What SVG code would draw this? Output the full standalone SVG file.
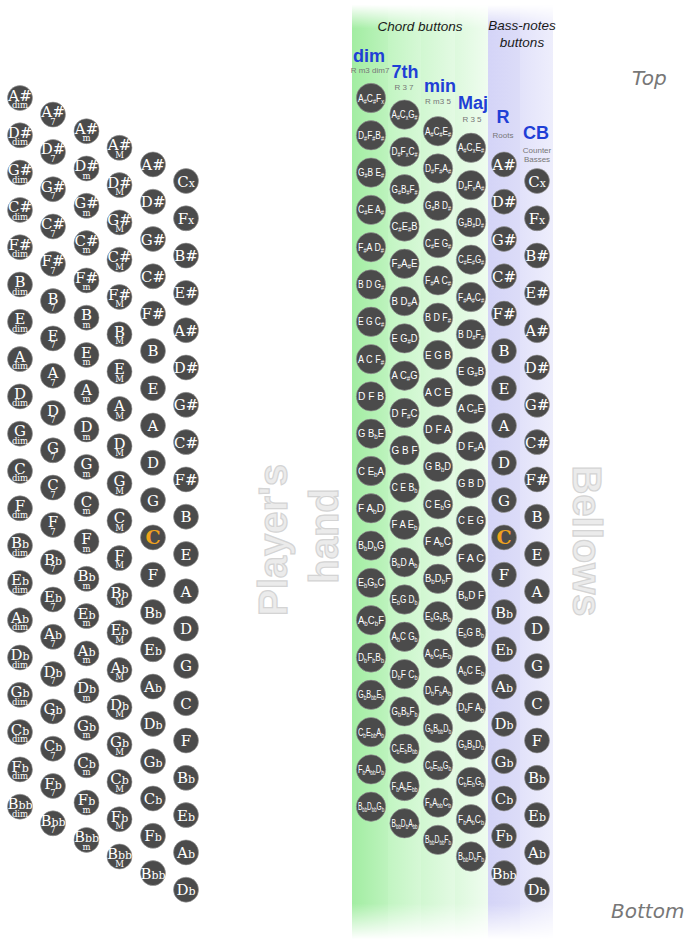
<svg xmlns="http://www.w3.org/2000/svg" xmlns:xlink="http://www.w3.org/1999/xlink" width="696" height="946" viewBox="0 0 696 946">
<style>
.b{fill:#4b4b4b;stroke:#9a9a9a;stroke-width:.6}
.n{font-family:"DejaVu Serif","Liberation Serif",serif;font-size:15px;fill:#fff;text-anchor:middle}
.f{font-size:11px}
.s{font-family:"DejaVu Serif","Liberation Serif",serif;font-size:8.5px;fill:#fff;text-anchor:middle}
.o{font-family:"DejaVu Serif","Liberation Serif",serif;font-weight:bold;font-size:19px;fill:#f0a21c;text-anchor:middle}
.c{font-family:"Liberation Sans",Arial,sans-serif;font-size:10px;fill:#fff;text-anchor:middle}
.a{font-size:6.5px;baseline-shift:-2px}
.h{font-family:"Liberation Sans",Arial,sans-serif;font-style:italic;font-size:13.5px;fill:#1a1a1a;text-anchor:middle}
.t{font-family:"Liberation Sans",Arial,sans-serif;font-weight:bold;font-size:18px;fill:#1f3fd6;text-anchor:middle}
.u{font-family:"Liberation Sans",Arial,sans-serif;font-size:8px;fill:#777;text-anchor:middle}
.e{font-family:"DejaVu Sans",sans-serif;font-style:italic;font-size:20px;fill:#777}
.g{font-family:"Liberation Sans",Arial,sans-serif;font-weight:bold;font-size:40px;fill:#ebebeb;stroke:#d4d4d4;stroke-width:1.2;text-anchor:middle}
</style>
<defs>
<circle id="bb" r="12.5" class="b"/>
<circle id="bc" r="14.7" class="b"/>
<linearGradient id="gD" x1="0" x2="1" y1="0" y2="0"><stop offset="0" stop-color="#a2eda2"/><stop offset="1" stop-color="#bdf3bd"/></linearGradient>
<linearGradient id="g7" x1="0" x2="1" y1="0" y2="0"><stop offset="0" stop-color="#c2f5c2"/><stop offset="1" stop-color="#d6f8d6"/></linearGradient>
<linearGradient id="gm" x1="0" x2="1" y1="0" y2="0"><stop offset="0" stop-color="#d1f7d1"/><stop offset="1" stop-color="#e3fae3"/></linearGradient>
<linearGradient id="gM" x1="0" x2="1" y1="0" y2="0"><stop offset="0" stop-color="#ddf9dd"/><stop offset="1" stop-color="#effcef"/></linearGradient>
<linearGradient id="gR" x1="0" x2="1" y1="0" y2="0"><stop offset="0" stop-color="#d4d4f7"/><stop offset="1" stop-color="#dcdcf8"/></linearGradient>
<linearGradient id="gC" x1="0" x2="1" y1="0" y2="0"><stop offset="0" stop-color="#e2e2fa"/><stop offset="1" stop-color="#eeeefc"/></linearGradient>
<linearGradient id="vf" x1="0" x2="0" y1="0" y2="1"><stop offset="0.005" stop-color="#000"/><stop offset="0.03" stop-color="#fff"/><stop offset="0.955" stop-color="#fff"/><stop offset="0.993" stop-color="#000"/></linearGradient>
<mask id="fade"><rect x="340" y="0" width="230" height="946" fill="url(#vf)"/></mask>
</defs>
<rect width="696" height="946" fill="#fff"/>
<g id="bands" mask="url(#fade)">
<rect x="352" y="0" width="36" height="946" fill="url(#gD)"/>
<rect x="388" y="0" width="33" height="946" fill="url(#g7)"/>
<rect x="421" y="0" width="34" height="946" fill="url(#gm)"/>
<rect x="455" y="0" width="33" height="946" fill="url(#gM)"/>
<rect x="488" y="0" width="32" height="946" fill="url(#gR)"/>
<rect x="520" y="0" width="33" height="946" fill="url(#gC)"/>
</g>
<g id="labels">
<text class="h" x="420" y="31">Chord buttons</text>
<text class="h" x="522" y="30">Bass-notes</text>
<text class="h" x="522" y="47">buttons</text>
<text class="t" x="369" y="62">dim</text><text class="u" x="370" y="73">R m3 dim7</text>
<text class="t" x="405" y="78">7th</text><text class="u" x="404" y="90">R 3 7</text>
<text class="t" x="440" y="92">min</text><text class="u" x="438" y="104">R m3 5</text>
<text class="t" x="473" y="109">Maj</text><text class="u" x="472" y="122">R 3 5</text>
<text class="t" x="503" y="123">R</text><text class="u" x="503" y="138">Roots</text>
<text class="t" x="536" y="139">CB</text><text class="u" x="537" y="153">Counter</text><text class="u" x="537" y="162">Basses</text>
<text class="e" x="632" y="85">Top</text>
<text class="e" x="611" y="918">Bottom</text>
<text class="g" transform="translate(287,540) rotate(-90)">Player's</text>
<text class="g" transform="translate(338,536) rotate(-90)">hand</text>
<text class="g" transform="translate(573,541) rotate(90)">Bellows</text>
</g>
<g id="connectors"/>
<g id="left-dim">
<g id="L-dim-1" transform="translate(20,98)"><use href="#bb"/><text class="n" y="2.5">A#</text><text class="s" y="10">dim</text></g>
<g id="L-dim-2" transform="translate(20,135.3)"><use href="#bb"/><text class="n" y="2.5">D#</text><text class="s" y="10">dim</text></g>
<g id="L-dim-3" transform="translate(20,172.6)"><use href="#bb"/><text class="n" y="2.5">G#</text><text class="s" y="10">dim</text></g>
<g id="L-dim-4" transform="translate(20,209.9)"><use href="#bb"/><text class="n" y="2.5">C#</text><text class="s" y="10">dim</text></g>
<g id="L-dim-5" transform="translate(20,247.2)"><use href="#bb"/><text class="n" y="2.5">F#</text><text class="s" y="10">dim</text></g>
<g id="L-dim-6" transform="translate(20,284.5)"><use href="#bb"/><text class="n" y="2.5">B</text><text class="s" y="10">dim</text></g>
<g id="L-dim-7" transform="translate(20,321.8)"><use href="#bb"/><text class="n" y="2.5">E</text><text class="s" y="10">dim</text></g>
<g id="L-dim-8" transform="translate(20,359.1)"><use href="#bb"/><text class="n" y="2.5">A</text><text class="s" y="10">dim</text></g>
<g id="L-dim-9" transform="translate(20,396.4)"><use href="#bb"/><text class="n" y="2.5">D</text><text class="s" y="10">dim</text></g>
<g id="L-dim-10" transform="translate(20,433.7)"><use href="#bb"/><text class="n" y="2.5">G</text><text class="s" y="10">dim</text></g>
<g id="L-dim-11" transform="translate(20,471)"><use href="#bb"/><text class="n" y="2.5">C</text><text class="s" y="10">dim</text></g>
<g id="L-dim-12" transform="translate(20,508.3)"><use href="#bb"/><text class="n" y="2.5">F</text><text class="s" y="10">dim</text></g>
<g id="L-dim-13" transform="translate(20,545.6)"><use href="#bb"/><text class="n" y="2.5">B<tspan class="f">b</tspan></text><text class="s" y="10">dim</text></g>
<g id="L-dim-14" transform="translate(20,582.9)"><use href="#bb"/><text class="n" y="2.5">E<tspan class="f">b</tspan></text><text class="s" y="10">dim</text></g>
<g id="L-dim-15" transform="translate(20,620.2)"><use href="#bb"/><text class="n" y="2.5">A<tspan class="f">b</tspan></text><text class="s" y="10">dim</text></g>
<g id="L-dim-16" transform="translate(20,657.5)"><use href="#bb"/><text class="n" y="2.5">D<tspan class="f">b</tspan></text><text class="s" y="10">dim</text></g>
<g id="L-dim-17" transform="translate(20,694.8)"><use href="#bb"/><text class="n" y="2.5">G<tspan class="f">b</tspan></text><text class="s" y="10">dim</text></g>
<g id="L-dim-18" transform="translate(20,732.1)"><use href="#bb"/><text class="n" y="2.5">C<tspan class="f">b</tspan></text><text class="s" y="10">dim</text></g>
<g id="L-dim-19" transform="translate(20,769.4)"><use href="#bb"/><text class="n" y="2.5">F<tspan class="f">b</tspan></text><text class="s" y="10">dim</text></g>
<g id="L-dim-20" transform="translate(20,806.7)"><use href="#bb"/><text class="n" y="2.5">B<tspan class="f">bb</tspan></text><text class="s" y="10">dim</text></g>
</g>
<g id="left-7">
<g id="L-7-1" transform="translate(53,114.6)"><use href="#bb"/><text class="n" y="2.5">A#</text><text class="s" y="10">7</text></g>
<g id="L-7-2" transform="translate(53,151.9)"><use href="#bb"/><text class="n" y="2.5">D#</text><text class="s" y="10">7</text></g>
<g id="L-7-3" transform="translate(53,189.2)"><use href="#bb"/><text class="n" y="2.5">G#</text><text class="s" y="10">7</text></g>
<g id="L-7-4" transform="translate(53,226.5)"><use href="#bb"/><text class="n" y="2.5">C#</text><text class="s" y="10">7</text></g>
<g id="L-7-5" transform="translate(53,263.8)"><use href="#bb"/><text class="n" y="2.5">F#</text><text class="s" y="10">7</text></g>
<g id="L-7-6" transform="translate(53,301.1)"><use href="#bb"/><text class="n" y="2.5">B</text><text class="s" y="10">7</text></g>
<g id="L-7-7" transform="translate(53,338.4)"><use href="#bb"/><text class="n" y="2.5">E</text><text class="s" y="10">7</text></g>
<g id="L-7-8" transform="translate(53,375.7)"><use href="#bb"/><text class="n" y="2.5">A</text><text class="s" y="10">7</text></g>
<g id="L-7-9" transform="translate(53,413)"><use href="#bb"/><text class="n" y="2.5">D</text><text class="s" y="10">7</text></g>
<g id="L-7-10" transform="translate(53,450.3)"><use href="#bb"/><text class="n" y="2.5">G</text><text class="s" y="10">7</text></g>
<g id="L-7-11" transform="translate(53,487.6)"><use href="#bb"/><text class="n" y="2.5">C</text><text class="s" y="10">7</text></g>
<g id="L-7-12" transform="translate(53,524.9)"><use href="#bb"/><text class="n" y="2.5">F</text><text class="s" y="10">7</text></g>
<g id="L-7-13" transform="translate(53,562.2)"><use href="#bb"/><text class="n" y="2.5">B<tspan class="f">b</tspan></text><text class="s" y="10">7</text></g>
<g id="L-7-14" transform="translate(53,599.5)"><use href="#bb"/><text class="n" y="2.5">E<tspan class="f">b</tspan></text><text class="s" y="10">7</text></g>
<g id="L-7-15" transform="translate(53,636.8)"><use href="#bb"/><text class="n" y="2.5">A<tspan class="f">b</tspan></text><text class="s" y="10">7</text></g>
<g id="L-7-16" transform="translate(53,674.1)"><use href="#bb"/><text class="n" y="2.5">D<tspan class="f">b</tspan></text><text class="s" y="10">7</text></g>
<g id="L-7-17" transform="translate(53,711.4)"><use href="#bb"/><text class="n" y="2.5">G<tspan class="f">b</tspan></text><text class="s" y="10">7</text></g>
<g id="L-7-18" transform="translate(53,748.7)"><use href="#bb"/><text class="n" y="2.5">C<tspan class="f">b</tspan></text><text class="s" y="10">7</text></g>
<g id="L-7-19" transform="translate(53,786)"><use href="#bb"/><text class="n" y="2.5">F<tspan class="f">b</tspan></text><text class="s" y="10">7</text></g>
<g id="L-7-20" transform="translate(53,823.3)"><use href="#bb"/><text class="n" y="2.5">B<tspan class="f">bb</tspan></text><text class="s" y="10">7</text></g>
</g>
<g id="left-m">
<g id="L-m-1" transform="translate(86.5,131.2)"><use href="#bb"/><text class="n" y="2.5">A#</text><text class="s" y="10">m</text></g>
<g id="L-m-2" transform="translate(86.5,168.5)"><use href="#bb"/><text class="n" y="2.5">D#</text><text class="s" y="10">m</text></g>
<g id="L-m-3" transform="translate(86.5,205.8)"><use href="#bb"/><text class="n" y="2.5">G#</text><text class="s" y="10">m</text></g>
<g id="L-m-4" transform="translate(86.5,243.1)"><use href="#bb"/><text class="n" y="2.5">C#</text><text class="s" y="10">m</text></g>
<g id="L-m-5" transform="translate(86.5,280.4)"><use href="#bb"/><text class="n" y="2.5">F#</text><text class="s" y="10">m</text></g>
<g id="L-m-6" transform="translate(86.5,317.7)"><use href="#bb"/><text class="n" y="2.5">B</text><text class="s" y="10">m</text></g>
<g id="L-m-7" transform="translate(86.5,355)"><use href="#bb"/><text class="n" y="2.5">E</text><text class="s" y="10">m</text></g>
<g id="L-m-8" transform="translate(86.5,392.3)"><use href="#bb"/><text class="n" y="2.5">A</text><text class="s" y="10">m</text></g>
<g id="L-m-9" transform="translate(86.5,429.6)"><use href="#bb"/><text class="n" y="2.5">D</text><text class="s" y="10">m</text></g>
<g id="L-m-10" transform="translate(86.5,466.9)"><use href="#bb"/><text class="n" y="2.5">G</text><text class="s" y="10">m</text></g>
<g id="L-m-11" transform="translate(86.5,504.2)"><use href="#bb"/><text class="n" y="2.5">C</text><text class="s" y="10">m</text></g>
<g id="L-m-12" transform="translate(86.5,541.5)"><use href="#bb"/><text class="n" y="2.5">F</text><text class="s" y="10">m</text></g>
<g id="L-m-13" transform="translate(86.5,578.8)"><use href="#bb"/><text class="n" y="2.5">B<tspan class="f">b</tspan></text><text class="s" y="10">m</text></g>
<g id="L-m-14" transform="translate(86.5,616.1)"><use href="#bb"/><text class="n" y="2.5">E<tspan class="f">b</tspan></text><text class="s" y="10">m</text></g>
<g id="L-m-15" transform="translate(86.5,653.4)"><use href="#bb"/><text class="n" y="2.5">A<tspan class="f">b</tspan></text><text class="s" y="10">m</text></g>
<g id="L-m-16" transform="translate(86.5,690.7)"><use href="#bb"/><text class="n" y="2.5">D<tspan class="f">b</tspan></text><text class="s" y="10">m</text></g>
<g id="L-m-17" transform="translate(86.5,728)"><use href="#bb"/><text class="n" y="2.5">G<tspan class="f">b</tspan></text><text class="s" y="10">m</text></g>
<g id="L-m-18" transform="translate(86.5,765.3)"><use href="#bb"/><text class="n" y="2.5">C<tspan class="f">b</tspan></text><text class="s" y="10">m</text></g>
<g id="L-m-19" transform="translate(86.5,802.6)"><use href="#bb"/><text class="n" y="2.5">F<tspan class="f">b</tspan></text><text class="s" y="10">m</text></g>
<g id="L-m-20" transform="translate(86.5,839.9)"><use href="#bb"/><text class="n" y="2.5">B<tspan class="f">bb</tspan></text><text class="s" y="10">m</text></g>
</g>
<g id="left-M">
<g id="L-M-1" transform="translate(119.5,147.8)"><use href="#bb"/><text class="n" y="2.5">A#</text><text class="s" y="10">M</text></g>
<g id="L-M-2" transform="translate(119.5,185.1)"><use href="#bb"/><text class="n" y="2.5">D#</text><text class="s" y="10">M</text></g>
<g id="L-M-3" transform="translate(119.5,222.4)"><use href="#bb"/><text class="n" y="2.5">G#</text><text class="s" y="10">M</text></g>
<g id="L-M-4" transform="translate(119.5,259.7)"><use href="#bb"/><text class="n" y="2.5">C#</text><text class="s" y="10">M</text></g>
<g id="L-M-5" transform="translate(119.5,297)"><use href="#bb"/><text class="n" y="2.5">F#</text><text class="s" y="10">M</text></g>
<g id="L-M-6" transform="translate(119.5,334.3)"><use href="#bb"/><text class="n" y="2.5">B</text><text class="s" y="10">M</text></g>
<g id="L-M-7" transform="translate(119.5,371.6)"><use href="#bb"/><text class="n" y="2.5">E</text><text class="s" y="10">M</text></g>
<g id="L-M-8" transform="translate(119.5,408.9)"><use href="#bb"/><text class="n" y="2.5">A</text><text class="s" y="10">M</text></g>
<g id="L-M-9" transform="translate(119.5,446.2)"><use href="#bb"/><text class="n" y="2.5">D</text><text class="s" y="10">M</text></g>
<g id="L-M-10" transform="translate(119.5,483.5)"><use href="#bb"/><text class="n" y="2.5">G</text><text class="s" y="10">M</text></g>
<g id="L-M-11" transform="translate(119.5,520.8)"><use href="#bb"/><text class="n" y="2.5">C</text><text class="s" y="10">M</text></g>
<g id="L-M-12" transform="translate(119.5,558.1)"><use href="#bb"/><text class="n" y="2.5">F</text><text class="s" y="10">M</text></g>
<g id="L-M-13" transform="translate(119.5,595.4)"><use href="#bb"/><text class="n" y="2.5">B<tspan class="f">b</tspan></text><text class="s" y="10">M</text></g>
<g id="L-M-14" transform="translate(119.5,632.7)"><use href="#bb"/><text class="n" y="2.5">E<tspan class="f">b</tspan></text><text class="s" y="10">M</text></g>
<g id="L-M-15" transform="translate(119.5,670)"><use href="#bb"/><text class="n" y="2.5">A<tspan class="f">b</tspan></text><text class="s" y="10">M</text></g>
<g id="L-M-16" transform="translate(119.5,707.3)"><use href="#bb"/><text class="n" y="2.5">D<tspan class="f">b</tspan></text><text class="s" y="10">M</text></g>
<g id="L-M-17" transform="translate(119.5,744.6)"><use href="#bb"/><text class="n" y="2.5">G<tspan class="f">b</tspan></text><text class="s" y="10">M</text></g>
<g id="L-M-18" transform="translate(119.5,781.9)"><use href="#bb"/><text class="n" y="2.5">C<tspan class="f">b</tspan></text><text class="s" y="10">M</text></g>
<g id="L-M-19" transform="translate(119.5,819.2)"><use href="#bb"/><text class="n" y="2.5">F<tspan class="f">b</tspan></text><text class="s" y="10">M</text></g>
<g id="L-M-20" transform="translate(119.5,856.5)"><use href="#bb"/><text class="n" y="2.5">B<tspan class="f">bb</tspan></text><text class="s" y="10">M</text></g>
</g>
<g id="left-R">
<g id="L-R-1" transform="translate(153,164.4)"><use href="#bb"/><text class="n" y="5.5">A#</text></g>
<g id="L-R-2" transform="translate(153,201.7)"><use href="#bb"/><text class="n" y="5.5">D#</text></g>
<g id="L-R-3" transform="translate(153,239)"><use href="#bb"/><text class="n" y="5.5">G#</text></g>
<g id="L-R-4" transform="translate(153,276.3)"><use href="#bb"/><text class="n" y="5.5">C#</text></g>
<g id="L-R-5" transform="translate(153,313.6)"><use href="#bb"/><text class="n" y="5.5">F#</text></g>
<g id="L-R-6" transform="translate(153,350.9)"><use href="#bb"/><text class="n" y="5.5">B</text></g>
<g id="L-R-7" transform="translate(153,388.2)"><use href="#bb"/><text class="n" y="5.5">E</text></g>
<g id="L-R-8" transform="translate(153,425.5)"><use href="#bb"/><text class="n" y="5.5">A</text></g>
<g id="L-R-9" transform="translate(153,462.8)"><use href="#bb"/><text class="n" y="5.5">D</text></g>
<g id="L-R-10" transform="translate(153,500.1)"><use href="#bb"/><text class="n" y="5.5">G</text></g>
<g id="L-R-11" transform="translate(153,537.4)"><use href="#bb"/><text class="o" y="7">C</text></g>
<g id="L-R-12" transform="translate(153,574.7)"><use href="#bb"/><text class="n" y="5.5">F</text></g>
<g id="L-R-13" transform="translate(153,612)"><use href="#bb"/><text class="n" y="5.5">B<tspan class="f">b</tspan></text></g>
<g id="L-R-14" transform="translate(153,649.3)"><use href="#bb"/><text class="n" y="5.5">E<tspan class="f">b</tspan></text></g>
<g id="L-R-15" transform="translate(153,686.6)"><use href="#bb"/><text class="n" y="5.5">A<tspan class="f">b</tspan></text></g>
<g id="L-R-16" transform="translate(153,723.9)"><use href="#bb"/><text class="n" y="5.5">D<tspan class="f">b</tspan></text></g>
<g id="L-R-17" transform="translate(153,761.2)"><use href="#bb"/><text class="n" y="5.5">G<tspan class="f">b</tspan></text></g>
<g id="L-R-18" transform="translate(153,798.5)"><use href="#bb"/><text class="n" y="5.5">C<tspan class="f">b</tspan></text></g>
<g id="L-R-19" transform="translate(153,835.8)"><use href="#bb"/><text class="n" y="5.5">F<tspan class="f">b</tspan></text></g>
<g id="L-R-20" transform="translate(153,873.1)"><use href="#bb"/><text class="n" y="5.5">B<tspan class="f">bb</tspan></text></g>
</g>
<g id="left-CB">
<g id="L-CB-1" transform="translate(186,181)"><use href="#bb"/><text class="n" y="5.5">C<tspan class="f">x</tspan></text></g>
<g id="L-CB-2" transform="translate(186,218.3)"><use href="#bb"/><text class="n" y="5.5">F<tspan class="f">x</tspan></text></g>
<g id="L-CB-3" transform="translate(186,255.6)"><use href="#bb"/><text class="n" y="5.5">B#</text></g>
<g id="L-CB-4" transform="translate(186,292.9)"><use href="#bb"/><text class="n" y="5.5">E#</text></g>
<g id="L-CB-5" transform="translate(186,330.2)"><use href="#bb"/><text class="n" y="5.5">A#</text></g>
<g id="L-CB-6" transform="translate(186,367.5)"><use href="#bb"/><text class="n" y="5.5">D#</text></g>
<g id="L-CB-7" transform="translate(186,404.8)"><use href="#bb"/><text class="n" y="5.5">G#</text></g>
<g id="L-CB-8" transform="translate(186,442.1)"><use href="#bb"/><text class="n" y="5.5">C#</text></g>
<g id="L-CB-9" transform="translate(186,479.4)"><use href="#bb"/><text class="n" y="5.5">F#</text></g>
<g id="L-CB-10" transform="translate(186,516.7)"><use href="#bb"/><text class="n" y="5.5">B</text></g>
<g id="L-CB-11" transform="translate(186,554)"><use href="#bb"/><text class="n" y="5.5">E</text></g>
<g id="L-CB-12" transform="translate(186,591.3)"><use href="#bb"/><text class="n" y="5.5">A</text></g>
<g id="L-CB-13" transform="translate(186,628.6)"><use href="#bb"/><text class="n" y="5.5">D</text></g>
<g id="L-CB-14" transform="translate(186,665.9)"><use href="#bb"/><text class="n" y="5.5">G</text></g>
<g id="L-CB-15" transform="translate(186,703.2)"><use href="#bb"/><text class="n" y="5.5">C</text></g>
<g id="L-CB-16" transform="translate(186,740.5)"><use href="#bb"/><text class="n" y="5.5">F</text></g>
<g id="L-CB-17" transform="translate(186,777.8)"><use href="#bb"/><text class="n" y="5.5">B<tspan class="f">b</tspan></text></g>
<g id="L-CB-18" transform="translate(186,815.1)"><use href="#bb"/><text class="n" y="5.5">E<tspan class="f">b</tspan></text></g>
<g id="L-CB-19" transform="translate(186,852.4)"><use href="#bb"/><text class="n" y="5.5">A<tspan class="f">b</tspan></text></g>
<g id="L-CB-20" transform="translate(186,889.7)"><use href="#bb"/><text class="n" y="5.5">D<tspan class="f">b</tspan></text></g>
</g>
<g id="right-dim">
<g id="R-dim-1" transform="translate(371,98)"><use href="#bc"/><text class="c" y="3.5" textLength="26" lengthAdjust="spacingAndGlyphs">A<tspan class="a">#</tspan>C<tspan class="a">#</tspan>F<tspan class="a">x</tspan></text></g>
<g id="R-dim-2" transform="translate(371,135.3)"><use href="#bc"/><text class="c" y="3.5" textLength="26" lengthAdjust="spacingAndGlyphs">D<tspan class="a">#</tspan>F<tspan class="a">#</tspan>B<tspan class="a">#</tspan></text></g>
<g id="R-dim-3" transform="translate(371,172.6)"><use href="#bc"/><text class="c" y="3.5" textLength="26" lengthAdjust="spacingAndGlyphs">G<tspan class="a">#</tspan>B E<tspan class="a">#</tspan></text></g>
<g id="R-dim-4" transform="translate(371,209.9)"><use href="#bc"/><text class="c" y="3.5" textLength="26" lengthAdjust="spacingAndGlyphs">C<tspan class="a">#</tspan>E A<tspan class="a">#</tspan></text></g>
<g id="R-dim-5" transform="translate(371,247.2)"><use href="#bc"/><text class="c" y="3.5" textLength="26" lengthAdjust="spacingAndGlyphs">F<tspan class="a">#</tspan>A D<tspan class="a">#</tspan></text></g>
<g id="R-dim-6" transform="translate(371,284.5)"><use href="#bc"/><text class="c" y="3.5" textLength="26" lengthAdjust="spacingAndGlyphs">B D G<tspan class="a">#</tspan></text></g>
<g id="R-dim-7" transform="translate(371,321.8)"><use href="#bc"/><text class="c" y="3.5" textLength="26" lengthAdjust="spacingAndGlyphs">E G C<tspan class="a">#</tspan></text></g>
<g id="R-dim-8" transform="translate(371,359.1)"><use href="#bc"/><text class="c" y="3.5" textLength="26" lengthAdjust="spacingAndGlyphs">A C F<tspan class="a">#</tspan></text></g>
<g id="R-dim-9" transform="translate(371,396.4)"><use href="#bc"/><text class="c" y="3.5" textLength="26" lengthAdjust="spacingAndGlyphs">D F B</text></g>
<g id="R-dim-10" transform="translate(371,433.7)"><use href="#bc"/><text class="c" y="3.5" textLength="26" lengthAdjust="spacingAndGlyphs">G B<tspan class="a">b</tspan>E</text></g>
<g id="R-dim-11" transform="translate(371,471)"><use href="#bc"/><text class="c" y="3.5" textLength="26" lengthAdjust="spacingAndGlyphs">C E<tspan class="a">b</tspan>A</text></g>
<g id="R-dim-12" transform="translate(371,508.3)"><use href="#bc"/><text class="c" y="3.5" textLength="26" lengthAdjust="spacingAndGlyphs">F A<tspan class="a">b</tspan>D</text></g>
<g id="R-dim-13" transform="translate(371,545.6)"><use href="#bc"/><text class="c" y="3.5" textLength="26" lengthAdjust="spacingAndGlyphs">B<tspan class="a">b</tspan>D<tspan class="a">b</tspan>G</text></g>
<g id="R-dim-14" transform="translate(371,582.9)"><use href="#bc"/><text class="c" y="3.5" textLength="26" lengthAdjust="spacingAndGlyphs">E<tspan class="a">b</tspan>G<tspan class="a">b</tspan>C</text></g>
<g id="R-dim-15" transform="translate(371,620.2)"><use href="#bc"/><text class="c" y="3.5" textLength="26" lengthAdjust="spacingAndGlyphs">A<tspan class="a">b</tspan>C<tspan class="a">b</tspan>F</text></g>
<g id="R-dim-16" transform="translate(371,657.5)"><use href="#bc"/><text class="c" y="3.5" textLength="26" lengthAdjust="spacingAndGlyphs">D<tspan class="a">b</tspan>F<tspan class="a">b</tspan>B<tspan class="a">b</tspan></text></g>
<g id="R-dim-17" transform="translate(371,694.8)"><use href="#bc"/><text class="c" y="3.5" textLength="26" lengthAdjust="spacingAndGlyphs">G<tspan class="a">b</tspan>B<tspan class="a">bb</tspan>E<tspan class="a">b</tspan></text></g>
<g id="R-dim-18" transform="translate(371,732.1)"><use href="#bc"/><text class="c" y="3.5" textLength="26" lengthAdjust="spacingAndGlyphs">C<tspan class="a">b</tspan>E<tspan class="a">bb</tspan>A<tspan class="a">b</tspan></text></g>
<g id="R-dim-19" transform="translate(371,769.4)"><use href="#bc"/><text class="c" y="3.5" textLength="26" lengthAdjust="spacingAndGlyphs">F<tspan class="a">b</tspan>A<tspan class="a">bb</tspan>D<tspan class="a">b</tspan></text></g>
<g id="R-dim-20" transform="translate(371,806.7)"><use href="#bc"/><text class="c" y="3.5" textLength="26" lengthAdjust="spacingAndGlyphs">B<tspan class="a">bb</tspan>D<tspan class="a">bb</tspan>G<tspan class="a">b</tspan></text></g>
</g>
<g id="right-7">
<g id="R-7-1" transform="translate(404.5,114.6)"><use href="#bc"/><text class="c" y="3.5" textLength="26" lengthAdjust="spacingAndGlyphs">A<tspan class="a">#</tspan>C<tspan class="a">x</tspan>G<tspan class="a">#</tspan></text></g>
<g id="R-7-2" transform="translate(404.5,151.9)"><use href="#bc"/><text class="c" y="3.5" textLength="26" lengthAdjust="spacingAndGlyphs">D<tspan class="a">#</tspan>F<tspan class="a">x</tspan>C<tspan class="a">#</tspan></text></g>
<g id="R-7-3" transform="translate(404.5,189.2)"><use href="#bc"/><text class="c" y="3.5" textLength="26" lengthAdjust="spacingAndGlyphs">G<tspan class="a">#</tspan>B<tspan class="a">#</tspan>F<tspan class="a">#</tspan></text></g>
<g id="R-7-4" transform="translate(404.5,226.5)"><use href="#bc"/><text class="c" y="3.5" textLength="26" lengthAdjust="spacingAndGlyphs">C<tspan class="a">#</tspan>E<tspan class="a">#</tspan>B</text></g>
<g id="R-7-5" transform="translate(404.5,263.8)"><use href="#bc"/><text class="c" y="3.5" textLength="26" lengthAdjust="spacingAndGlyphs">F<tspan class="a">#</tspan>A<tspan class="a">#</tspan>E</text></g>
<g id="R-7-6" transform="translate(404.5,301.1)"><use href="#bc"/><text class="c" y="3.5" textLength="26" lengthAdjust="spacingAndGlyphs">B D<tspan class="a">#</tspan>A</text></g>
<g id="R-7-7" transform="translate(404.5,338.4)"><use href="#bc"/><text class="c" y="3.5" textLength="26" lengthAdjust="spacingAndGlyphs">E G<tspan class="a">#</tspan>D</text></g>
<g id="R-7-8" transform="translate(404.5,375.7)"><use href="#bc"/><text class="c" y="3.5" textLength="26" lengthAdjust="spacingAndGlyphs">A C<tspan class="a">#</tspan>G</text></g>
<g id="R-7-9" transform="translate(404.5,413)"><use href="#bc"/><text class="c" y="3.5" textLength="26" lengthAdjust="spacingAndGlyphs">D F<tspan class="a">#</tspan>C</text></g>
<g id="R-7-10" transform="translate(404.5,450.3)"><use href="#bc"/><text class="c" y="3.5" textLength="26" lengthAdjust="spacingAndGlyphs">G B F</text></g>
<g id="R-7-11" transform="translate(404.5,487.6)"><use href="#bc"/><text class="c" y="3.5" textLength="26" lengthAdjust="spacingAndGlyphs">C E B<tspan class="a">b</tspan></text></g>
<g id="R-7-12" transform="translate(404.5,524.9)"><use href="#bc"/><text class="c" y="3.5" textLength="26" lengthAdjust="spacingAndGlyphs">F A E<tspan class="a">b</tspan></text></g>
<g id="R-7-13" transform="translate(404.5,562.2)"><use href="#bc"/><text class="c" y="3.5" textLength="26" lengthAdjust="spacingAndGlyphs">B<tspan class="a">b</tspan>D A<tspan class="a">b</tspan></text></g>
<g id="R-7-14" transform="translate(404.5,599.5)"><use href="#bc"/><text class="c" y="3.5" textLength="26" lengthAdjust="spacingAndGlyphs">E<tspan class="a">b</tspan>G D<tspan class="a">b</tspan></text></g>
<g id="R-7-15" transform="translate(404.5,636.8)"><use href="#bc"/><text class="c" y="3.5" textLength="26" lengthAdjust="spacingAndGlyphs">A<tspan class="a">b</tspan>C G<tspan class="a">b</tspan></text></g>
<g id="R-7-16" transform="translate(404.5,674.1)"><use href="#bc"/><text class="c" y="3.5" textLength="26" lengthAdjust="spacingAndGlyphs">D<tspan class="a">b</tspan>F C<tspan class="a">b</tspan></text></g>
<g id="R-7-17" transform="translate(404.5,711.4)"><use href="#bc"/><text class="c" y="3.5" textLength="26" lengthAdjust="spacingAndGlyphs">G<tspan class="a">b</tspan>B<tspan class="a">b</tspan>F<tspan class="a">b</tspan></text></g>
<g id="R-7-18" transform="translate(404.5,748.7)"><use href="#bc"/><text class="c" y="3.5" textLength="26" lengthAdjust="spacingAndGlyphs">C<tspan class="a">b</tspan>E<tspan class="a">b</tspan>B<tspan class="a">bb</tspan></text></g>
<g id="R-7-19" transform="translate(404.5,786)"><use href="#bc"/><text class="c" y="3.5" textLength="26" lengthAdjust="spacingAndGlyphs">F<tspan class="a">b</tspan>A<tspan class="a">b</tspan>E<tspan class="a">bb</tspan></text></g>
<g id="R-7-20" transform="translate(404.5,823.3)"><use href="#bc"/><text class="c" y="3.5" textLength="26" lengthAdjust="spacingAndGlyphs">B<tspan class="a">bb</tspan>D<tspan class="a">b</tspan>A<tspan class="a">bb</tspan></text></g>
</g>
<g id="right-min">
<g id="R-min-1" transform="translate(438,131.2)"><use href="#bc"/><text class="c" y="3.5" textLength="26" lengthAdjust="spacingAndGlyphs">A<tspan class="a">#</tspan>C<tspan class="a">#</tspan>E<tspan class="a">#</tspan></text></g>
<g id="R-min-2" transform="translate(438,168.5)"><use href="#bc"/><text class="c" y="3.5" textLength="26" lengthAdjust="spacingAndGlyphs">D<tspan class="a">#</tspan>F<tspan class="a">#</tspan>A<tspan class="a">#</tspan></text></g>
<g id="R-min-3" transform="translate(438,205.8)"><use href="#bc"/><text class="c" y="3.5" textLength="26" lengthAdjust="spacingAndGlyphs">G<tspan class="a">#</tspan>B D<tspan class="a">#</tspan></text></g>
<g id="R-min-4" transform="translate(438,243.1)"><use href="#bc"/><text class="c" y="3.5" textLength="26" lengthAdjust="spacingAndGlyphs">C<tspan class="a">#</tspan>E G<tspan class="a">#</tspan></text></g>
<g id="R-min-5" transform="translate(438,280.4)"><use href="#bc"/><text class="c" y="3.5" textLength="26" lengthAdjust="spacingAndGlyphs">F<tspan class="a">#</tspan>A C<tspan class="a">#</tspan></text></g>
<g id="R-min-6" transform="translate(438,317.7)"><use href="#bc"/><text class="c" y="3.5" textLength="26" lengthAdjust="spacingAndGlyphs">B D F<tspan class="a">#</tspan></text></g>
<g id="R-min-7" transform="translate(438,355)"><use href="#bc"/><text class="c" y="3.5" textLength="26" lengthAdjust="spacingAndGlyphs">E G B</text></g>
<g id="R-min-8" transform="translate(438,392.3)"><use href="#bc"/><text class="c" y="3.5" textLength="26" lengthAdjust="spacingAndGlyphs">A C E</text></g>
<g id="R-min-9" transform="translate(438,429.6)"><use href="#bc"/><text class="c" y="3.5" textLength="26" lengthAdjust="spacingAndGlyphs">D F A</text></g>
<g id="R-min-10" transform="translate(438,466.9)"><use href="#bc"/><text class="c" y="3.5" textLength="26" lengthAdjust="spacingAndGlyphs">G B<tspan class="a">b</tspan>D</text></g>
<g id="R-min-11" transform="translate(438,504.2)"><use href="#bc"/><text class="c" y="3.5" textLength="26" lengthAdjust="spacingAndGlyphs">C E<tspan class="a">b</tspan>G</text></g>
<g id="R-min-12" transform="translate(438,541.5)"><use href="#bc"/><text class="c" y="3.5" textLength="26" lengthAdjust="spacingAndGlyphs">F A<tspan class="a">b</tspan>C</text></g>
<g id="R-min-13" transform="translate(438,578.8)"><use href="#bc"/><text class="c" y="3.5" textLength="26" lengthAdjust="spacingAndGlyphs">B<tspan class="a">b</tspan>D<tspan class="a">b</tspan>F</text></g>
<g id="R-min-14" transform="translate(438,616.1)"><use href="#bc"/><text class="c" y="3.5" textLength="26" lengthAdjust="spacingAndGlyphs">E<tspan class="a">b</tspan>G<tspan class="a">b</tspan>B<tspan class="a">b</tspan></text></g>
<g id="R-min-15" transform="translate(438,653.4)"><use href="#bc"/><text class="c" y="3.5" textLength="26" lengthAdjust="spacingAndGlyphs">A<tspan class="a">b</tspan>C<tspan class="a">b</tspan>E<tspan class="a">b</tspan></text></g>
<g id="R-min-16" transform="translate(438,690.7)"><use href="#bc"/><text class="c" y="3.5" textLength="26" lengthAdjust="spacingAndGlyphs">D<tspan class="a">b</tspan>F<tspan class="a">b</tspan>A<tspan class="a">b</tspan></text></g>
<g id="R-min-17" transform="translate(438,728)"><use href="#bc"/><text class="c" y="3.5" textLength="26" lengthAdjust="spacingAndGlyphs">G<tspan class="a">b</tspan>B<tspan class="a">bb</tspan>D<tspan class="a">b</tspan></text></g>
<g id="R-min-18" transform="translate(438,765.3)"><use href="#bc"/><text class="c" y="3.5" textLength="26" lengthAdjust="spacingAndGlyphs">C<tspan class="a">b</tspan>E<tspan class="a">bb</tspan>G<tspan class="a">b</tspan></text></g>
<g id="R-min-19" transform="translate(438,802.6)"><use href="#bc"/><text class="c" y="3.5" textLength="26" lengthAdjust="spacingAndGlyphs">F<tspan class="a">b</tspan>A<tspan class="a">bb</tspan>C<tspan class="a">b</tspan></text></g>
<g id="R-min-20" transform="translate(438,839.9)"><use href="#bc"/><text class="c" y="3.5" textLength="26" lengthAdjust="spacingAndGlyphs">B<tspan class="a">bb</tspan>D<tspan class="a">bb</tspan>F<tspan class="a">b</tspan></text></g>
</g>
<g id="right-Maj">
<g id="R-Maj-1" transform="translate(471,147.8)"><use href="#bc"/><text class="c" y="3.5" textLength="26" lengthAdjust="spacingAndGlyphs">A<tspan class="a">#</tspan>C<tspan class="a">x</tspan>E<tspan class="a">#</tspan></text></g>
<g id="R-Maj-2" transform="translate(471,185.1)"><use href="#bc"/><text class="c" y="3.5" textLength="26" lengthAdjust="spacingAndGlyphs">D<tspan class="a">#</tspan>F<tspan class="a">x</tspan>A<tspan class="a">#</tspan></text></g>
<g id="R-Maj-3" transform="translate(471,222.4)"><use href="#bc"/><text class="c" y="3.5" textLength="26" lengthAdjust="spacingAndGlyphs">G<tspan class="a">#</tspan>B<tspan class="a">#</tspan>D<tspan class="a">#</tspan></text></g>
<g id="R-Maj-4" transform="translate(471,259.7)"><use href="#bc"/><text class="c" y="3.5" textLength="26" lengthAdjust="spacingAndGlyphs">C<tspan class="a">#</tspan>E<tspan class="a">#</tspan>G<tspan class="a">#</tspan></text></g>
<g id="R-Maj-5" transform="translate(471,297)"><use href="#bc"/><text class="c" y="3.5" textLength="26" lengthAdjust="spacingAndGlyphs">F<tspan class="a">#</tspan>A<tspan class="a">#</tspan>C<tspan class="a">#</tspan></text></g>
<g id="R-Maj-6" transform="translate(471,334.3)"><use href="#bc"/><text class="c" y="3.5" textLength="26" lengthAdjust="spacingAndGlyphs">B D<tspan class="a">#</tspan>F<tspan class="a">#</tspan></text></g>
<g id="R-Maj-7" transform="translate(471,371.6)"><use href="#bc"/><text class="c" y="3.5" textLength="26" lengthAdjust="spacingAndGlyphs">E G<tspan class="a">#</tspan>B</text></g>
<g id="R-Maj-8" transform="translate(471,408.9)"><use href="#bc"/><text class="c" y="3.5" textLength="26" lengthAdjust="spacingAndGlyphs">A C<tspan class="a">#</tspan>E</text></g>
<g id="R-Maj-9" transform="translate(471,446.2)"><use href="#bc"/><text class="c" y="3.5" textLength="26" lengthAdjust="spacingAndGlyphs">D F<tspan class="a">#</tspan>A</text></g>
<g id="R-Maj-10" transform="translate(471,483.5)"><use href="#bc"/><text class="c" y="3.5" textLength="26" lengthAdjust="spacingAndGlyphs">G B D</text></g>
<g id="R-Maj-11" transform="translate(471,520.8)"><use href="#bc"/><text class="c" y="3.5" textLength="26" lengthAdjust="spacingAndGlyphs">C E G</text></g>
<g id="R-Maj-12" transform="translate(471,558.1)"><use href="#bc"/><text class="c" y="3.5" textLength="26" lengthAdjust="spacingAndGlyphs">F A C</text></g>
<g id="R-Maj-13" transform="translate(471,595.4)"><use href="#bc"/><text class="c" y="3.5" textLength="26" lengthAdjust="spacingAndGlyphs">B<tspan class="a">b</tspan>D F</text></g>
<g id="R-Maj-14" transform="translate(471,632.7)"><use href="#bc"/><text class="c" y="3.5" textLength="26" lengthAdjust="spacingAndGlyphs">E<tspan class="a">b</tspan>G B<tspan class="a">b</tspan></text></g>
<g id="R-Maj-15" transform="translate(471,670)"><use href="#bc"/><text class="c" y="3.5" textLength="26" lengthAdjust="spacingAndGlyphs">A<tspan class="a">b</tspan>C E<tspan class="a">b</tspan></text></g>
<g id="R-Maj-16" transform="translate(471,707.3)"><use href="#bc"/><text class="c" y="3.5" textLength="26" lengthAdjust="spacingAndGlyphs">D<tspan class="a">b</tspan>F A<tspan class="a">b</tspan></text></g>
<g id="R-Maj-17" transform="translate(471,744.6)"><use href="#bc"/><text class="c" y="3.5" textLength="26" lengthAdjust="spacingAndGlyphs">G<tspan class="a">b</tspan>B<tspan class="a">b</tspan>D<tspan class="a">b</tspan></text></g>
<g id="R-Maj-18" transform="translate(471,781.9)"><use href="#bc"/><text class="c" y="3.5" textLength="26" lengthAdjust="spacingAndGlyphs">C<tspan class="a">b</tspan>E<tspan class="a">b</tspan>G<tspan class="a">b</tspan></text></g>
<g id="R-Maj-19" transform="translate(471,819.2)"><use href="#bc"/><text class="c" y="3.5" textLength="26" lengthAdjust="spacingAndGlyphs">F<tspan class="a">b</tspan>A<tspan class="a">b</tspan>C<tspan class="a">b</tspan></text></g>
<g id="R-Maj-20" transform="translate(471,856.5)"><use href="#bc"/><text class="c" y="3.5" textLength="26" lengthAdjust="spacingAndGlyphs">B<tspan class="a">bb</tspan>D<tspan class="a">b</tspan>F<tspan class="a">b</tspan></text></g>
</g>
<g id="right-R">
<g id="R-R-1" transform="translate(504,164.4)"><use href="#bb"/><text class="n" y="5.5">A#</text></g>
<g id="R-R-2" transform="translate(504,201.7)"><use href="#bb"/><text class="n" y="5.5">D#</text></g>
<g id="R-R-3" transform="translate(504,239)"><use href="#bb"/><text class="n" y="5.5">G#</text></g>
<g id="R-R-4" transform="translate(504,276.3)"><use href="#bb"/><text class="n" y="5.5">C#</text></g>
<g id="R-R-5" transform="translate(504,313.6)"><use href="#bb"/><text class="n" y="5.5">F#</text></g>
<g id="R-R-6" transform="translate(504,350.9)"><use href="#bb"/><text class="n" y="5.5">B</text></g>
<g id="R-R-7" transform="translate(504,388.2)"><use href="#bb"/><text class="n" y="5.5">E</text></g>
<g id="R-R-8" transform="translate(504,425.5)"><use href="#bb"/><text class="n" y="5.5">A</text></g>
<g id="R-R-9" transform="translate(504,462.8)"><use href="#bb"/><text class="n" y="5.5">D</text></g>
<g id="R-R-10" transform="translate(504,500.1)"><use href="#bb"/><text class="n" y="5.5">G</text></g>
<g id="R-R-11" transform="translate(504,537.4)"><use href="#bb"/><text class="o" y="7">C</text></g>
<g id="R-R-12" transform="translate(504,574.7)"><use href="#bb"/><text class="n" y="5.5">F</text></g>
<g id="R-R-13" transform="translate(504,612)"><use href="#bb"/><text class="n" y="5.5">B<tspan class="f">b</tspan></text></g>
<g id="R-R-14" transform="translate(504,649.3)"><use href="#bb"/><text class="n" y="5.5">E<tspan class="f">b</tspan></text></g>
<g id="R-R-15" transform="translate(504,686.6)"><use href="#bb"/><text class="n" y="5.5">A<tspan class="f">b</tspan></text></g>
<g id="R-R-16" transform="translate(504,723.9)"><use href="#bb"/><text class="n" y="5.5">D<tspan class="f">b</tspan></text></g>
<g id="R-R-17" transform="translate(504,761.2)"><use href="#bb"/><text class="n" y="5.5">G<tspan class="f">b</tspan></text></g>
<g id="R-R-18" transform="translate(504,798.5)"><use href="#bb"/><text class="n" y="5.5">C<tspan class="f">b</tspan></text></g>
<g id="R-R-19" transform="translate(504,835.8)"><use href="#bb"/><text class="n" y="5.5">F<tspan class="f">b</tspan></text></g>
<g id="R-R-20" transform="translate(504,873.1)"><use href="#bb"/><text class="n" y="5.5">B<tspan class="f">bb</tspan></text></g>
</g>
<g id="right-CB">
<g id="R-CB-1" transform="translate(537,181)"><use href="#bb"/><text class="n" y="5.5">C<tspan class="f">x</tspan></text></g>
<g id="R-CB-2" transform="translate(537,218.3)"><use href="#bb"/><text class="n" y="5.5">F<tspan class="f">x</tspan></text></g>
<g id="R-CB-3" transform="translate(537,255.6)"><use href="#bb"/><text class="n" y="5.5">B#</text></g>
<g id="R-CB-4" transform="translate(537,292.9)"><use href="#bb"/><text class="n" y="5.5">E#</text></g>
<g id="R-CB-5" transform="translate(537,330.2)"><use href="#bb"/><text class="n" y="5.5">A#</text></g>
<g id="R-CB-6" transform="translate(537,367.5)"><use href="#bb"/><text class="n" y="5.5">D#</text></g>
<g id="R-CB-7" transform="translate(537,404.8)"><use href="#bb"/><text class="n" y="5.5">G#</text></g>
<g id="R-CB-8" transform="translate(537,442.1)"><use href="#bb"/><text class="n" y="5.5">C#</text></g>
<g id="R-CB-9" transform="translate(537,479.4)"><use href="#bb"/><text class="n" y="5.5">F#</text></g>
<g id="R-CB-10" transform="translate(537,516.7)"><use href="#bb"/><text class="n" y="5.5">B</text></g>
<g id="R-CB-11" transform="translate(537,554)"><use href="#bb"/><text class="n" y="5.5">E</text></g>
<g id="R-CB-12" transform="translate(537,591.3)"><use href="#bb"/><text class="n" y="5.5">A</text></g>
<g id="R-CB-13" transform="translate(537,628.6)"><use href="#bb"/><text class="n" y="5.5">D</text></g>
<g id="R-CB-14" transform="translate(537,665.9)"><use href="#bb"/><text class="n" y="5.5">G</text></g>
<g id="R-CB-15" transform="translate(537,703.2)"><use href="#bb"/><text class="n" y="5.5">C</text></g>
<g id="R-CB-16" transform="translate(537,740.5)"><use href="#bb"/><text class="n" y="5.5">F</text></g>
<g id="R-CB-17" transform="translate(537,777.8)"><use href="#bb"/><text class="n" y="5.5">B<tspan class="f">b</tspan></text></g>
<g id="R-CB-18" transform="translate(537,815.1)"><use href="#bb"/><text class="n" y="5.5">E<tspan class="f">b</tspan></text></g>
<g id="R-CB-19" transform="translate(537,852.4)"><use href="#bb"/><text class="n" y="5.5">A<tspan class="f">b</tspan></text></g>
<g id="R-CB-20" transform="translate(537,889.7)"><use href="#bb"/><text class="n" y="5.5">D<tspan class="f">b</tspan></text></g>
</g>
</svg>
